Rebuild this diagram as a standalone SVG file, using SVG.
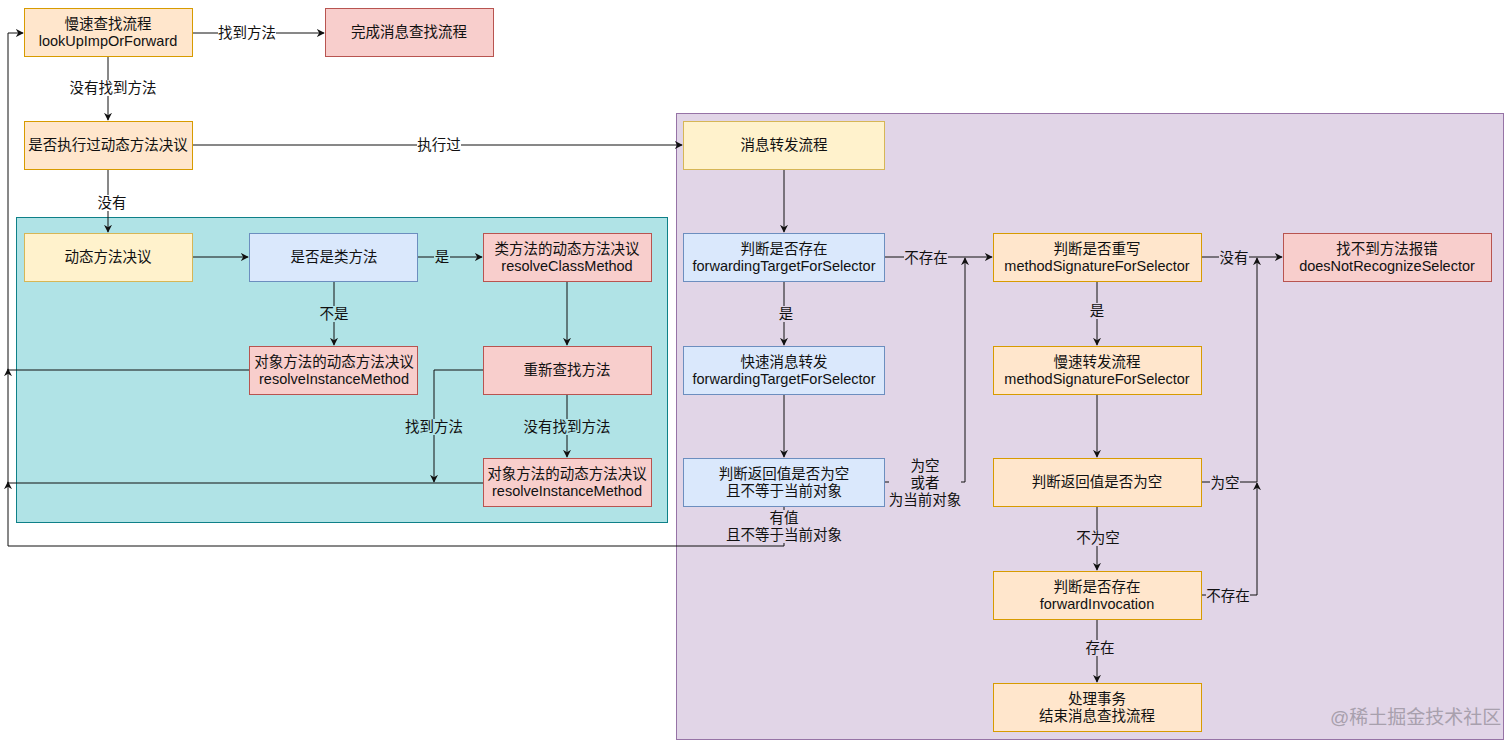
<svg xmlns="http://www.w3.org/2000/svg" width="1512" height="748" viewBox="0 0 1512 748">
<defs>
<style>
text{font-family:"Liberation Sans","Noto Sans CJK SC",sans-serif;font-size:14.5px;fill:#111;text-anchor:middle;dominant-baseline:central}
.orange{fill:#ffe6cc;stroke:#d79b00}
.yellow{fill:#fff2cc;stroke:#d6b656}
.blue{fill:#dae8fc;stroke:#6c8ebf}
.red{fill:#f8cecc;stroke:#b85450}
.edge{fill:none;stroke:#111;stroke-width:1;marker-end:url(#arr)}
.line{fill:none;stroke:#111;stroke-width:1}
.wm{font-size:19px;fill:#a8a0ad;text-anchor:start}
</style>
<marker id="arr" viewBox="0 0 10 10" refX="9" refY="5" markerWidth="8" markerHeight="8" markerUnits="userSpaceOnUse" orient="auto">
<path d="M0,0 L10,5 L0,10 L3,5 z" fill="#111"/>
</marker>
</defs>
<rect width="1512" height="748" fill="#ffffff"/>
<g id="containers">
<rect id="teal" x="16.5" y="217.5" width="651" height="305" fill="#b0e3e6" stroke="#0e8088"/>
<rect id="purple" x="676.5" y="113.5" width="827" height="626" fill="#e1d5e7" stroke="#9673a6"/>
</g>
<g id="connectors">
<path class="edge" d="M193,33 H324"/>
<path class="edge" d="M108,57 V120"/>
<path class="edge" d="M193,145 H682"/>
<path class="edge" d="M108,169 V232"/>
<path class="edge" d="M193,257 H248"/>
<path class="edge" d="M418,257 H482"/>
<path class="edge" d="M334,281 V345"/>
<path class="edge" d="M567,281 V345"/>
<path class="edge" d="M567,394 V457"/>
<path class="edge" d="M483,370 H434 V482"/>
<path class="edge" d="M249,370 H8 V369"/>
<path class="edge" d="M483,483 H8 V482"/>
<path class="edge" d="M784,506 V546 H8 V33 H23"/>
<path class="edge" d="M784,169 V232"/>
<path class="edge" d="M884,257 H992"/>
<path class="edge" d="M784,281 V345"/>
<path class="edge" d="M784,394 V457"/>
<path class="edge" d="M884,482 H965 V258"/>
<path class="edge" d="M1201,257 H1282"/>
<path class="edge" d="M1097,281 V345"/>
<path class="edge" d="M1097,394 V457"/>
<path class="edge" d="M1201,482 H1257 V258"/>
<path class="edge" d="M1097,506 V570"/>
<path class="edge" d="M1201,595 H1257 V483"/>
<path class="edge" d="M1097,619 V682"/>
</g>
<g id="edge-labels">
<rect x="218" y="25" width="58" height="16" fill="#fff"/><text x="247" y="33">找到方法</text>
<rect x="69" y="80" width="88" height="16" fill="#fff"/><text x="113" y="88">没有找到方法</text>
<rect x="417" y="137" width="44" height="16" fill="#fff"/><text x="439" y="145">执行过</text>
<rect x="97" y="195" width="30" height="16" fill="#fff"/><text x="112" y="203">没有</text>
<rect x="434" y="249" width="16" height="16" fill="#b0e3e6"/><text x="442" y="257">是</text>
<rect x="319" y="306" width="30" height="16" fill="#b0e3e6"/><text x="334" y="314">不是</text>
<rect x="405" y="419" width="58" height="16" fill="#b0e3e6"/><text x="434" y="427">找到方法</text>
<rect x="523" y="419" width="88" height="16" fill="#b0e3e6"/><text x="567" y="427">没有找到方法</text>
<rect x="904" y="250" width="44" height="16" fill="#e1d5e7"/><text x="926" y="258">不存在</text>
<rect x="778" y="306" width="16" height="16" fill="#e1d5e7"/><text x="786" y="314">是</text>
<rect x="889" y="458" width="72" height="50" fill="#e1d5e7"/>
<text x="925" y="466">为空</text><text x="925" y="483">或者</text><text x="925" y="500">为当前对象</text>
<rect x="727" y="510" width="116" height="33" fill="#e1d5e7"/>
<text x="784" y="518">有值</text><text x="784" y="535">且不等于当前对象</text>
<rect x="1219" y="250" width="30" height="16" fill="#e1d5e7"/><text x="1234" y="258">没有</text>
<rect x="1089" y="303" width="16" height="16" fill="#e1d5e7"/><text x="1097" y="311">是</text>
<rect x="1210" y="475" width="30" height="16" fill="#e1d5e7"/><text x="1225" y="483">为空</text>
<rect x="1076" y="530" width="44" height="16" fill="#e1d5e7"/><text x="1098" y="538">不为空</text>
<rect x="1206" y="588" width="44" height="16" fill="#e1d5e7"/><text x="1228" y="596">不存在</text>
<rect x="1085" y="640" width="30" height="16" fill="#e1d5e7"/><text x="1100" y="648">存在</text>
</g>
<g id="n-slow">
<rect class="orange" x="24.5" y="8.5" width="168" height="48"/>
<text x="108" y="24">慢速查找流程</text><text x="108" y="41">lookUpImpOrForward</text>
</g>
<g id="n-done">
<rect class="red" x="325.5" y="8.5" width="168" height="48"/>
<text x="409" y="32">完成消息查找流程</text>
</g>
<g id="n-executed">
<rect class="orange" x="24.5" y="121.5" width="168" height="48"/>
<text x="108" y="145">是否执行过动态方法决议</text>
</g>
<g id="n-dynamic">
<rect class="yellow" x="24.5" y="233.5" width="168" height="48"/>
<text x="108" y="257">动态方法决议</text>
</g>
<g id="n-isclass">
<rect class="blue" x="249.5" y="233.5" width="168" height="48"/>
<text x="334" y="257">是否是类方法</text>
</g>
<g id="n-resolveclass">
<rect class="red" x="483.5" y="233.5" width="168" height="48"/>
<text x="567" y="249">类方法的动态方法决议</text><text x="567" y="266">resolveClassMethod</text>
</g>
<g id="n-resolveinst1">
<rect class="red" x="249.5" y="346.5" width="168" height="48"/>
<text x="334" y="362">对象方法的动态方法决议</text><text x="334" y="379">resolveInstanceMethod</text>
</g>
<g id="n-relookup">
<rect class="red" x="483.5" y="346.5" width="168" height="48"/>
<text x="567" y="370">重新查找方法</text>
</g>
<g id="n-resolveinst2">
<rect class="red" x="483.5" y="458.5" width="168" height="48"/>
<text x="567" y="474">对象方法的动态方法决议</text><text x="567" y="491">resolveInstanceMethod</text>
</g>
<g id="n-forward">
<rect class="yellow" x="683.5" y="121.5" width="201" height="48"/>
<text x="784" y="145">消息转发流程</text>
</g>
<g id="n-hasfwdtarget">
<rect class="blue" x="683.5" y="233.5" width="201" height="48"/>
<text x="784" y="249">判断是否存在</text><text x="784" y="266">forwardingTargetForSelector</text>
</g>
<g id="n-fastfwd">
<rect class="blue" x="683.5" y="346.5" width="201" height="48"/>
<text x="784" y="362">快速消息转发</text><text x="784" y="379">forwardingTargetForSelector</text>
</g>
<g id="n-checkret1">
<rect class="blue" x="683.5" y="458.5" width="201" height="48"/>
<text x="784" y="474">判断返回值是否为空</text><text x="784" y="491">且不等于当前对象</text>
</g>
<g id="n-override">
<rect class="orange" x="993.5" y="233.5" width="208" height="48"/>
<text x="1097" y="249">判断是否重写</text><text x="1097" y="266">methodSignatureForSelector</text>
</g>
<g id="n-slowfwd">
<rect class="orange" x="993.5" y="346.5" width="208" height="48"/>
<text x="1097" y="362">慢速转发流程</text><text x="1097" y="379">methodSignatureForSelector</text>
</g>
<g id="n-checkret2">
<rect class="orange" x="993.5" y="458.5" width="208" height="48"/>
<text x="1097" y="482">判断返回值是否为空</text>
</g>
<g id="n-fwdinvocation">
<rect class="orange" x="993.5" y="571.5" width="208" height="48"/>
<text x="1097" y="587">判断是否存在</text><text x="1097" y="604">forwardInvocation</text>
</g>
<g id="n-handle">
<rect class="orange" x="993.5" y="683.5" width="208" height="48"/>
<text x="1097" y="699">处理事务</text><text x="1097" y="716">结束消息查找流程</text>
</g>
<g id="n-error">
<rect class="red" x="1283.5" y="233.5" width="208" height="48"/>
<text x="1387" y="249">找不到方法报错</text><text x="1387" y="266">doesNotRecognizeSelector</text>
</g>
<text class="wm" x="1330" y="717">@稀土掘金技术社区</text>
</svg>
